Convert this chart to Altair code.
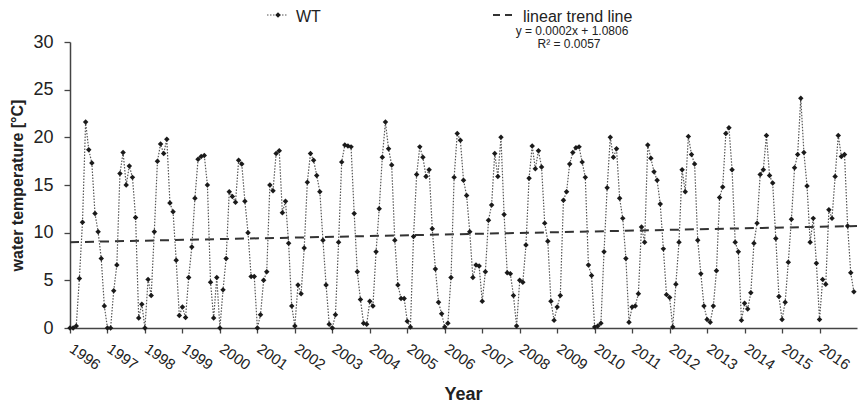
import altair as alt
import pandas as pd

years = list(range(1996, 2017))

wt_1996 = [0.0, 0.0, 0.2, 5.2, 11.1, 21.6, 18.7, 17.3, 12.0, 10.1, 7.3, 2.3]
wt_1997 = [0.0, 0.0, 3.9, 6.6, 16.2, 18.4, 15.0, 17.0, 15.8, 11.6, 1.05, 2.5]
wt_1998 = [0.0, 5.1, 3.4, 10.1, 17.5, 19.3, 18.3, 19.8, 13.1, 12.2, 7.1, 1.3]
wt_1999 = [2.2, 1.1, 5.3, 8.5, 13.6, 17.7, 18.0, 18.1, 15.0, 4.8, 1.05, 5.3]
wt_2000 = [0.0, 4.0, 7.3, 14.3, 13.8, 13.2, 17.6, 17.2, 13.3, 10.0, 5.4, 5.4]
wt_2001 = [0.0, 1.4, 5.0, 5.9, 15.0, 14.4, 18.3, 18.6, 12.1, 13.3, 8.9, 2.3]
wt_2002 = [0.2, 4.5, 3.6, 8.4, 15.3, 18.3, 17.6, 16.0, 14.3, 9.2, 4.5, 0.4]
wt_2003 = [0.0, 1.4, 9.0, 17.4, 19.2, 19.1, 19.0, 12.0, 5.9, 3.0, 0.5, 0.4]
wt_2004 = [2.8, 2.3, 8.0, 12.5, 17.9, 21.6, 18.8, 17.1, 9.2, 4.5, 3.1, 3.1]
wt_2005 = [0.7, 0.1, 9.6, 16.1, 19.0, 17.9, 15.9, 16.6, 10.4, 6.2, 2.7, 1.5]
wt_2006 = [0.1, 0.5, 5.3, 15.8, 20.4, 19.7, 15.5, 13.9, 10.1, 5.3, 6.6, 6.5]
wt_2007 = [2.8, 5.9, 11.3, 12.9, 18.3, 15.9, 20.0, 11.9, 5.8, 5.7, 3.4, 0.2]
wt_2008 = [5.0, 4.8, 8.7, 15.7, 19.1, 16.7, 18.6, 16.9, 11.0, 9.1, 2.8, 0.8]
wt_2009 = [2.2, 3.4, 13.4, 14.3, 17.2, 18.4, 18.9, 19.0, 17.4, 15.8, 6.6, 5.5]
wt_2010 = [0.1, 0.2, 0.5, 8.0, 14.7, 20.0, 17.9, 18.8, 13.6, 11.5, 7.3, 0.6]
wt_2011 = [2.2, 2.3, 3.6, 10.6, 9.0, 19.2, 17.8, 16.4, 15.5, 13.0, 8.3, 3.5]
wt_2012 = [3.2, 0.1, 4.6, 9.0, 16.6, 14.3, 20.1, 18.2, 17.2, 9.2, 5.7, 2.3]
wt_2013 = [0.9, 0.6, 2.3, 6.0, 13.7, 14.8, 20.4, 21.0, 16.6, 9.0, 8.0, 0.8]
wt_2014 = [2.6, 2.0, 3.7, 8.9, 11.0, 16.1, 16.6, 20.2, 16.0, 15.2, 9.4, 3.3]
wt_2015 = [0.9, 2.7, 6.9, 11.4, 16.8, 18.2, 24.1, 18.4, 14.9, 9.0, 11.5, 6.8]
wt_2016 = [0.9, 5.1, 4.6, 12.4, 11.5, 15.9, 20.2, 18.0, 18.2, 10.7, 5.8, 3.8]

series = [wt_1996, wt_1997, wt_1998, wt_1999, wt_2000, wt_2001, wt_2002,
          wt_2003, wt_2004, wt_2005, wt_2006, wt_2007, wt_2008, wt_2009,
          wt_2010, wt_2011, wt_2012, wt_2013, wt_2014, wt_2015, wt_2016]

# linear trend line as drawn in the figure (start / end of the axis range)
trend_years = [1996, 2017]
trend_values = [9.0, 10.7]

equation_text = "y = 0.0002x + 1.0806"
r2_text = "R² = 0.0057"

rows = []
for yr, vals in zip(years, series):
    for m, v in enumerate(vals):
        rows.append({"yr": yr + m / 12.0, "wt": v})
df = pd.DataFrame(rows)
trend_df = pd.DataFrame({"yr": trend_years, "wt": trend_values})
one = pd.DataFrame({"k": [0]})

FONT = "Liberation Sans"
INK = "#222222"

x_enc = alt.X(
    "yr:Q",
    scale=alt.Scale(domain=[1996, 2017], nice=False, zero=False),
    axis=alt.Axis(
        values=years, format="d", labelAngle=35, labelAlign="left",
        labelBaseline="top", labelPadding=8, labelOffset=5, labelFontSize=15,
        labelOverlap=False, labelFlush=False, tickSize=5,
        title="Year", titleFontSize=18, titleFontWeight="bold",
        titleBaseline="alphabetic", titleX=393, titleY=71, titleAnchor="middle",
        grid=False,
    ),
)
y_enc = alt.Y(
    "wt:Q",
    scale=alt.Scale(domain=[0, 30], nice=False),
    axis=alt.Axis(
        values=[0, 5, 10, 15, 20, 25, 30], labelFontSize=18, labelPadding=11,
        tickSize=6, title="water temperature [°C]", titleFontSize=16,
        titleFontWeight="bold", titleAngle=270, titleBaseline="middle",
        titleX=-53, titleY=143, grid=False,
    ),
)

base = alt.Chart(df)
line = base.mark_line(strokeDash=[1.5, 1.5], strokeWidth=1.2, color="#555555").encode(x=x_enc, y=y_enc)
pts = base.mark_point(shape="diamond", filled=True, size=30, color="#1a1a1a", opacity=1).encode(x=x_enc, y=y_enc)
trend = alt.Chart(trend_df).mark_line(
    strokeDash=[9, 6], strokeWidth=2, color="#333333").encode(x=x_enc, y=y_enc)

leg = alt.Chart(one)
leg_wt_line = leg.mark_rule(strokeDash=[1.5, 1.5], strokeWidth=1.2, color="#555555").encode(
    x=alt.value(197), x2=alt.value(218), y=alt.value(-27))
leg_wt_pt = leg.mark_point(shape="diamond", filled=True, size=30, color="#1a1a1a", opacity=1).encode(
    x=alt.value(208), y=alt.value(-27))
leg_wt_txt = leg.mark_text(align="left", baseline="middle", fontSize=16, font=FONT, color=INK).encode(
    x=alt.value(226), y=alt.value(-25.5), text=alt.value("WT"))
leg_tr_line = leg.mark_rule(strokeDash=[7, 5], strokeWidth=2, color="#333333").encode(
    x=alt.value(423), x2=alt.value(445), y=alt.value(-27))
leg_tr_txt = leg.mark_text(align="left", baseline="middle", fontSize=16, font=FONT, color=INK).encode(
    x=alt.value(453), y=alt.value(-25.5), text=alt.value("linear trend line"))
eq_txt = leg.mark_text(align="center", baseline="middle", fontSize=12, font=FONT, color=INK).encode(
    x=alt.value(502), y=alt.value(-11), text=alt.value(equation_text))
r2_txt = leg.mark_text(align="center", baseline="middle", fontSize=12, font=FONT, color=INK).encode(
    x=alt.value(499), y=alt.value(2), text=alt.value(r2_text))

chart = alt.layer(
    trend, line, pts, leg_wt_line, leg_wt_pt, leg_wt_txt, leg_tr_line, leg_tr_txt, eq_txt, r2_txt
).properties(
    width=787, height=286,
    autosize=alt.AutoSizeParams(type="none"),
    padding={"left": 62, "top": 34, "right": 1, "bottom": 76},
    background="white",
).configure_view(stroke=None).configure_axis(
    domainColor="#444444", domainWidth=1.5, tickColor="#444444", tickWidth=1.3,
    labelColor=INK, titleColor=INK, labelFont=FONT, titleFont=FONT,
)

chart.save("out.html", embed_options={"renderer": "svg", "actions": False})
